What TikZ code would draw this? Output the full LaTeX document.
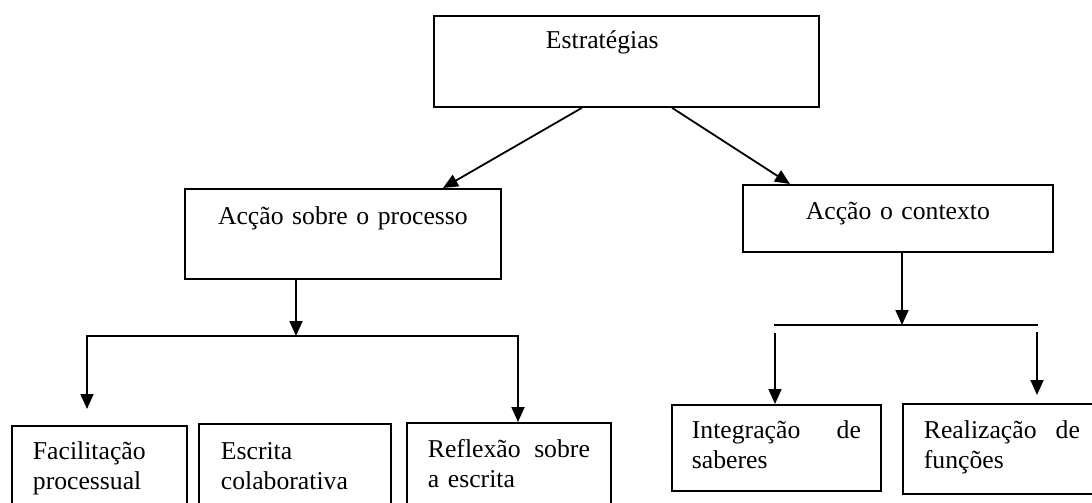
\documentclass[tikz,border=0pt]{standalone}
\usepackage{fontspec}
\setmainfont{Liberation Serif}
\usetikzlibrary{arrows.meta,calc}

\begin{document}
\begin{tikzpicture}[x=0.5pt,y=-0.5pt,
  font=\fontsize{12.85}{14.75}\selectfont,
  box/.style={draw,line width=0.9pt,anchor=north west,inner ysep=0pt,align=left},
  arr/.style={line width=0.9pt,-{Triangle[length=7.5pt,width=6.5pt]}},
  bar/.style={line width=0.9pt,line cap=rect}]

% Size of the scanned page (one unit is one pixel, y going down)
\useasboundingbox (0,0) rectangle (1092,503);
\clip (0,0) rectangle (1092,503);

% First level: the strategies
\node[box,inner xsep=56pt,text width=80.5pt,text height=16.5pt,text depth=29pt]
  (est) at (433,15) {Estratégias};

% Second level: the two kinds of action
\node[box,align=center,inner xsep=0pt,text width=158pt,text height=18pt,text depth=27pt]
  (proc) at (184,188) {Acção sobre o processo};
\node[box,align=center,inner xsep=0pt,text width=155pt,text height=17.5pt,text depth=16pt]
  (ctx) at (742,184) {Acção o contexto};

% Third level (the lower boxes run past the bottom of the page)
\node[box,inner xsep=10.5pt,text width=66.5pt,text height=17pt,text depth=40pt]
  (fac) at (11,425) {Facilitação\\processual};
\node[box,inner xsep=11pt,text width=74pt,text height=18pt,text depth=40pt]
  (esc) at (198,423) {Escrita\\colaborativa};
\node[box,inner xsep=10.5pt,text width=81pt,text height=17.5pt,text depth=40pt]
  (ref) at (406,422) {Reflexão\hfill sobre\\a escrita};
\node[box,inner xsep=10pt,text width=84.5pt,text height=17pt,text depth=26pt]
  (int) at (671,404) {Integração\hfill de\\saberes};
\node[box,inner xsep=10.5pt,text width=78pt,text height=17.5pt,text depth=27.5pt]
  (rea) at (902,403) {Realização\hfill de\\funções};

% Points where the arrows leave and reach the boxes
\coordinate (E1) at ($(est.south west)+(149,0)$);
\coordinate (E2) at ($(est.south west)+(239,0)$);
\coordinate (P1) at ($(proc.north west)+(259,0)$);
\coordinate (C1) at ($(ctx.north west)+(48,0)$);
\coordinate (P2) at ($(proc.south west)+(112,0)$);
\coordinate (C2) at ($(ctx.south west)+(160,0)$);

% Ends of the two horizontal bars
\coordinate (BL) at (87,336);
\coordinate (BR) at (518,336);
\coordinate (CL) at (775,325);
\coordinate (CR) at (1037,325);

% Arrows from the strategies
\draw[arr] (E1) -- (P1);
\draw[arr] (E2) -- (C1);

% Left branch
\draw[arr] (P2) -- (P2 |- BL);
\draw[bar] (BL) -- (BR);
\draw[arr,shorten >=8pt] (BL) -- (BL |- fac.north);
\draw[arr] (BR) -- (BR |- ref.north);

% Right branch (the drops start a little below the bar)
\draw[arr] (C2) -- (C2 |- CL);
\draw[bar] (CL) -- (CR);
\draw[arr] ([yshift=-4pt]CL) -- (CL |- int.north);
\draw[arr,shorten >=4pt] ([yshift=-3.5pt]CR) -- (CR |- rea.north);
\end{tikzpicture}
\end{document}
